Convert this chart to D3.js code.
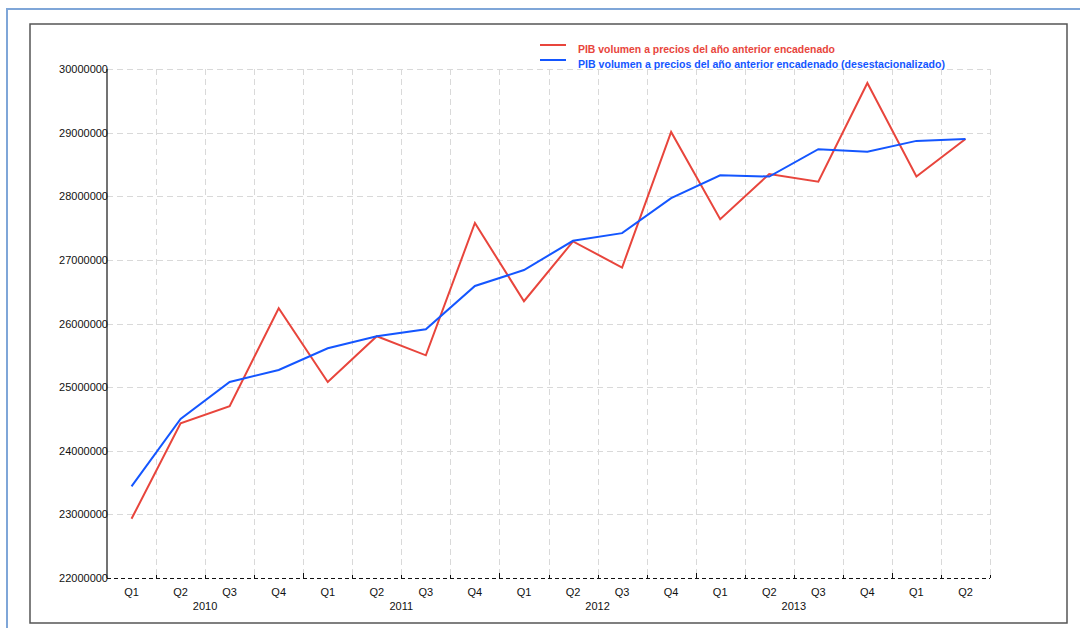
<!DOCTYPE html>
<html>
<head>
<meta charset="utf-8">
<script src="https://cdn.jsdelivr.net/npm/d3@7"></script>
<style>
  html, body { margin: 0; padding: 0; background: #fff; }
  svg { display: block; }
  text { font-family: Arial, "Liberation Sans", sans-serif; }
</style>
</head>
<body>
<svg id="chart" width="1080" height="628"></svg>
<script>
// ---- Data ----
const quarters = ["Q1","Q2","Q3","Q4","Q1","Q2","Q3","Q4","Q1","Q2","Q3","Q4","Q1","Q2","Q3","Q4","Q1","Q2"];
const years = ["2010","2011","2012","2013"];
const pibVolumen = [22930000, 24430000, 24700000, 26240000, 25080000, 25800000, 25500000, 27580000,
                    26350000, 27290000, 26880000, 29010000, 27640000, 28350000, 28230000, 29780000,
                    28310000, 28900000];
const pibDesest = [23440000, 24500000, 25080000, 25270000, 25610000, 25800000, 25910000, 26590000,
                   26840000, 27300000, 27420000, 27970000, 28330000, 28310000, 28740000, 28700000,
                   28870000, 28900000];
const yTicks = [22000000, 23000000, 24000000, 25000000, 26000000, 27000000, 28000000, 29000000, 30000000];
const legendLabels = ["PIB volumen a precios del año anterior encadenado",
                      "PIB volumen a precios del año anterior encadenado (desestacionalizado)"];
const seriesColors = ["#e8453c", "#1456ff"];

(function () {
// ---- Layout ----
const svg = d3.select("#chart");
const pLeft = 107, pRight = 990, pTop = 69, pBottom = 578;

// frames
svg.append("rect").attr("x", 7).attr("y", 9).attr("width", 1100).attr("height", 700)
  .attr("fill", "none").attr("stroke", "#7fa6d8").attr("stroke-width", 2);
svg.append("rect").attr("x", 30).attr("y", 24).attr("width", 1037).attr("height", 599)
  .attr("fill", "#fff").attr("stroke", "#555").attr("stroke-width", 1.5);

const idx = d3.range(quarters.length);
const x = d3.scaleBand().domain(idx).range([pLeft, pRight]).paddingInner(0).paddingOuter(0);
const y = d3.scaleLinear().domain([22000000, 30000000]).range([pBottom, pTop]);

// grid
const g = svg.append("g");
g.selectAll(".hg").data(yTicks.filter(t => t > 22000000)).join("line")
  .attr("x1", pLeft).attr("x2", pRight)
  .attr("y1", d => Math.round(y(d)) + 0.5).attr("y2", d => Math.round(y(d)) + 0.5)
  .attr("stroke", "#d9d9d9").attr("stroke-dasharray", "6,4");
g.selectAll(".vg").data(idx.map(i => x(i) + x.bandwidth())).join("line")
  .attr("x1", d => Math.round(d) + 0.5).attr("x2", d => Math.round(d) + 0.5)
  .attr("y1", pTop).attr("y2", pBottom)
  .attr("stroke", "#d9d9d9").attr("stroke-dasharray", "6,4");

// y axis
svg.append("line").attr("x1", pLeft).attr("x2", pLeft).attr("y1", pTop).attr("y2", pBottom)
  .attr("stroke", "#444").attr("stroke-width", 1.5);
svg.selectAll(".yl").data(yTicks).join("text")
  .attr("x", pLeft + 1).attr("y", d => y(d) + 4)
  .attr("text-anchor", "end").attr("font-size", "11px").attr("fill", "#111")
  .text(d => d3.format("d")(d));

// x axis (dashed baseline with ticks)
svg.append("line").attr("x1", pLeft).attr("x2", pRight).attr("y1", pBottom + 0.5).attr("y2", pBottom + 0.5)
  .attr("stroke", "#111").attr("stroke-dasharray", "4,3");
svg.selectAll(".xt").data(idx).join("line")
  .attr("x1", i => Math.round(x(i) + x.bandwidth()) + 0.5)
  .attr("x2", i => Math.round(x(i) + x.bandwidth()) + 0.5)
  .attr("y1", pBottom).attr("y2", i => (i + 1) % 4 === 0 ? pBottom - 5 : pBottom - 3)
  .attr("stroke", "#111");
svg.selectAll(".xl").data(idx).join("text")
  .attr("x", i => x(i) + x.bandwidth() / 2).attr("y", 596)
  .attr("text-anchor", "middle").attr("font-size", "11px").attr("fill", "#111")
  .text(i => quarters[i]);
svg.selectAll(".yr").data(years).join("text")
  .attr("x", (d, k) => x(k * 4 + 2)).attr("y", 610)
  .attr("text-anchor", "middle").attr("font-size", "11px").attr("fill", "#111")
  .text(d => d);

// lines
const line = d3.line().x((d, i) => x(i) + x.bandwidth() / 2).y(d => y(d));
[pibVolumen, pibDesest].forEach((s, k) => {
  svg.append("path").datum(s).attr("d", line)
    .attr("fill", "none").attr("stroke", seriesColors[k]).attr("stroke-width", 2)
    .attr("stroke-linejoin", "miter");
});

// legend
const leg = svg.append("g");
legendLabels.forEach((lab, k) => {
  const ly = 45 + k * 15;
  leg.append("line").attr("x1", 540).attr("x2", 566).attr("y1", ly).attr("y2", ly)
    .attr("stroke", seriesColors[k]).attr("stroke-width", 2);
  leg.append("text").attr("x", 578).attr("y", ly + 8)
    .attr("font-size", "10px").attr("font-weight", "bold").attr("fill", seriesColors[k])
    .attr("textLength", k === 0 ? 257 : 367).attr("lengthAdjust", "spacingAndGlyphs")
    .text(lab);
});
})();
</script>
</body>
</html>
